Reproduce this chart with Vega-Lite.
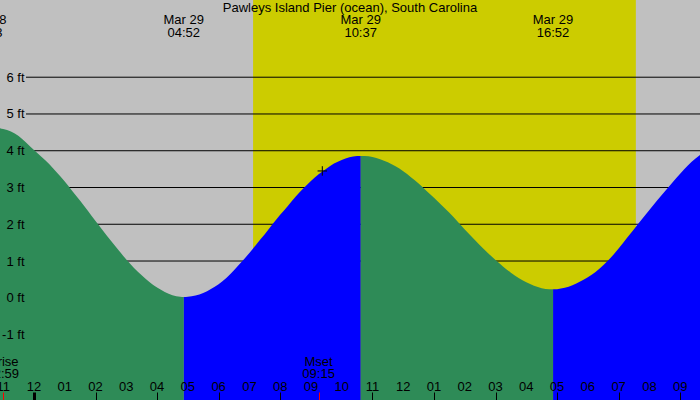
{
  "$schema": "https://vega.github.io/schema/vega-lite/v6.json",
  "width": 700,
  "height": 400,
  "autosize": {"type": "none"},
  "padding": 0,
  "background": "#c0c0c0",
  "config": {
    "font": "Liberation Sans",
    "view": {"stroke": null, "fill": "#c0c0c0"},
    "axis": {"labelFont": "Liberation Sans", "labelColor": "#000000", "labelFontSize": 13, "title": null, "grid": false, "domain": false}
  },
  "datasets": {
    "tide": [
      {"t": -1.45, "h": 4.65, "seg": "A", "dir": "falling"},
      {"t": -1.25, "h": 4.64, "seg": "A", "dir": "falling"},
      {"t": -1.0, "h": 4.59, "seg": "A", "dir": "falling"},
      {"t": -0.75, "h": 4.52, "seg": "A", "dir": "falling"},
      {"t": -0.5, "h": 4.4, "seg": "A", "dir": "falling"},
      {"t": -0.25, "h": 4.22, "seg": "A", "dir": "falling"},
      {"t": 0.0, "h": 4.02, "seg": "A", "dir": "falling"},
      {"t": 0.25, "h": 3.83, "seg": "A", "dir": "falling"},
      {"t": 0.5, "h": 3.63, "seg": "A", "dir": "falling"},
      {"t": 0.75, "h": 3.4, "seg": "A", "dir": "falling"},
      {"t": 1.0, "h": 3.16, "seg": "A", "dir": "falling"},
      {"t": 1.25, "h": 2.9, "seg": "A", "dir": "falling"},
      {"t": 1.5, "h": 2.64, "seg": "A", "dir": "falling"},
      {"t": 1.75, "h": 2.37, "seg": "A", "dir": "falling"},
      {"t": 2.0, "h": 2.09, "seg": "A", "dir": "falling"},
      {"t": 2.25, "h": 1.82, "seg": "A", "dir": "falling"},
      {"t": 2.5, "h": 1.55, "seg": "A", "dir": "falling"},
      {"t": 2.75, "h": 1.29, "seg": "A", "dir": "falling"},
      {"t": 3.0, "h": 1.04, "seg": "A", "dir": "falling"},
      {"t": 3.25, "h": 0.81, "seg": "A", "dir": "falling"},
      {"t": 3.5, "h": 0.61, "seg": "A", "dir": "falling"},
      {"t": 3.75, "h": 0.43, "seg": "A", "dir": "falling"},
      {"t": 4.0, "h": 0.28, "seg": "A", "dir": "falling"},
      {"t": 4.25, "h": 0.16, "seg": "A", "dir": "falling"},
      {"t": 4.5, "h": 0.07, "seg": "A", "dir": "falling"},
      {"t": 4.75, "h": 0.03, "seg": "A", "dir": "falling"},
      {"t": 4.87, "h": 0.02, "seg": "A", "dir": "falling"},
      {"t": 4.87, "h": 0.02, "seg": "B", "dir": "rising"},
      {"t": 5.0, "h": 0.03, "seg": "B", "dir": "rising"},
      {"t": 5.25, "h": 0.06, "seg": "B", "dir": "rising"},
      {"t": 5.5, "h": 0.13, "seg": "B", "dir": "rising"},
      {"t": 5.75, "h": 0.24, "seg": "B", "dir": "rising"},
      {"t": 6.0, "h": 0.37, "seg": "B", "dir": "rising"},
      {"t": 6.25, "h": 0.54, "seg": "B", "dir": "rising"},
      {"t": 6.5, "h": 0.75, "seg": "B", "dir": "rising"},
      {"t": 6.75, "h": 0.98, "seg": "B", "dir": "rising"},
      {"t": 7.0, "h": 1.22, "seg": "B", "dir": "rising"},
      {"t": 7.25, "h": 1.48, "seg": "B", "dir": "rising"},
      {"t": 7.5, "h": 1.73, "seg": "B", "dir": "rising"},
      {"t": 7.75, "h": 2.0, "seg": "B", "dir": "rising"},
      {"t": 8.0, "h": 2.26, "seg": "B", "dir": "rising"},
      {"t": 8.25, "h": 2.5, "seg": "B", "dir": "rising"},
      {"t": 8.5, "h": 2.75, "seg": "B", "dir": "rising"},
      {"t": 8.75, "h": 2.97, "seg": "B", "dir": "rising"},
      {"t": 9.0, "h": 3.18, "seg": "B", "dir": "rising"},
      {"t": 9.25, "h": 3.36, "seg": "B", "dir": "rising"},
      {"t": 9.5, "h": 3.51, "seg": "B", "dir": "rising"},
      {"t": 9.75, "h": 3.65, "seg": "B", "dir": "rising"},
      {"t": 10.0, "h": 3.75, "seg": "B", "dir": "rising"},
      {"t": 10.25, "h": 3.82, "seg": "B", "dir": "rising"},
      {"t": 10.5, "h": 3.855, "seg": "B", "dir": "rising"},
      {"t": 10.62, "h": 3.86, "seg": "B", "dir": "rising"},
      {"t": 10.62, "h": 3.86, "seg": "C", "dir": "falling"},
      {"t": 10.75, "h": 3.856, "seg": "C", "dir": "falling"},
      {"t": 11.0, "h": 3.83, "seg": "C", "dir": "falling"},
      {"t": 11.25, "h": 3.77, "seg": "C", "dir": "falling"},
      {"t": 11.5, "h": 3.685, "seg": "C", "dir": "falling"},
      {"t": 11.75, "h": 3.575, "seg": "C", "dir": "falling"},
      {"t": 12.0, "h": 3.44, "seg": "C", "dir": "falling"},
      {"t": 12.25, "h": 3.28, "seg": "C", "dir": "falling"},
      {"t": 12.5, "h": 3.11, "seg": "C", "dir": "falling"},
      {"t": 12.75, "h": 2.915, "seg": "C", "dir": "falling"},
      {"t": 13.0, "h": 2.72, "seg": "C", "dir": "falling"},
      {"t": 13.25, "h": 2.52, "seg": "C", "dir": "falling"},
      {"t": 13.5, "h": 2.31, "seg": "C", "dir": "falling"},
      {"t": 13.75, "h": 2.09, "seg": "C", "dir": "falling"},
      {"t": 14.0, "h": 1.86, "seg": "C", "dir": "falling"},
      {"t": 14.25, "h": 1.64, "seg": "C", "dir": "falling"},
      {"t": 14.5, "h": 1.42, "seg": "C", "dir": "falling"},
      {"t": 14.75, "h": 1.22, "seg": "C", "dir": "falling"},
      {"t": 15.0, "h": 1.025, "seg": "C", "dir": "falling"},
      {"t": 15.25, "h": 0.846, "seg": "C", "dir": "falling"},
      {"t": 15.5, "h": 0.683, "seg": "C", "dir": "falling"},
      {"t": 15.75, "h": 0.54, "seg": "C", "dir": "falling"},
      {"t": 16.0, "h": 0.42, "seg": "C", "dir": "falling"},
      {"t": 16.25, "h": 0.328, "seg": "C", "dir": "falling"},
      {"t": 16.5, "h": 0.262, "seg": "C", "dir": "falling"},
      {"t": 16.75, "h": 0.233, "seg": "C", "dir": "falling"},
      {"t": 16.87, "h": 0.23, "seg": "C", "dir": "falling"},
      {"t": 16.87, "h": 0.23, "seg": "D", "dir": "rising"},
      {"t": 17.0, "h": 0.235, "seg": "D", "dir": "rising"},
      {"t": 17.25, "h": 0.27, "seg": "D", "dir": "rising"},
      {"t": 17.5, "h": 0.34, "seg": "D", "dir": "rising"},
      {"t": 17.75, "h": 0.44, "seg": "D", "dir": "rising"},
      {"t": 18.0, "h": 0.56, "seg": "D", "dir": "rising"},
      {"t": 18.25, "h": 0.705, "seg": "D", "dir": "rising"},
      {"t": 18.5, "h": 0.883, "seg": "D", "dir": "rising"},
      {"t": 18.75, "h": 1.093, "seg": "D", "dir": "rising"},
      {"t": 19.0, "h": 1.342, "seg": "D", "dir": "rising"},
      {"t": 19.25, "h": 1.608, "seg": "D", "dir": "rising"},
      {"t": 19.5, "h": 1.864, "seg": "D", "dir": "rising"},
      {"t": 19.75, "h": 2.127, "seg": "D", "dir": "rising"},
      {"t": 20.0, "h": 2.39, "seg": "D", "dir": "rising"},
      {"t": 20.25, "h": 2.646, "seg": "D", "dir": "rising"},
      {"t": 20.5, "h": 2.892, "seg": "D", "dir": "rising"},
      {"t": 20.75, "h": 3.138, "seg": "D", "dir": "rising"},
      {"t": 21.0, "h": 3.377, "seg": "D", "dir": "rising"},
      {"t": 21.25, "h": 3.597, "seg": "D", "dir": "rising"},
      {"t": 21.5, "h": 3.786, "seg": "D", "dir": "rising"},
      {"t": 21.75, "h": 3.949, "seg": "D", "dir": "rising"},
      {"t": 22.0, "h": 4.088, "seg": "D", "dir": "rising"}
    ],
    "sun": [{"t": 7.12, "t2": 19.56}],
    "levels": [{"h": 1}, {"h": 2}, {"h": 3}, {"h": 4}, {"h": 5}, {"h": 6}],
    "hours": [
      {"t": -1, "label": "11"}, {"t": 0, "label": "12"}, {"t": 1, "label": "01"}, {"t": 2, "label": "02"},
      {"t": 3, "label": "03"}, {"t": 4, "label": "04"}, {"t": 5, "label": "05"}, {"t": 6, "label": "06"},
      {"t": 7, "label": "07"}, {"t": 8, "label": "08"}, {"t": 9, "label": "09"}, {"t": 10, "label": "10"},
      {"t": 11, "label": "11"}, {"t": 12, "label": "12"}, {"t": 13, "label": "01"}, {"t": 14, "label": "02"},
      {"t": 15, "label": "03"}, {"t": 16, "label": "04"}, {"t": 17, "label": "05"}, {"t": 18, "label": "06"},
      {"t": 19, "label": "07"}, {"t": 20, "label": "08"}, {"t": 21, "label": "09"}
    ],
    "extremes": [
      {"t": -1.55, "date": "Mar 28", "time": "22:33"},
      {"t": 4.867, "date": "Mar 29", "time": "04:52"},
      {"t": 10.617, "date": "Mar 29", "time": "10:37"},
      {"t": 16.867, "date": "Mar 29", "time": "16:52"}
    ],
    "moon": [
      {"t": -1.017, "name": "Mrise", "time": "22:59"},
      {"t": 9.25, "name": "Mset", "time": "09:15"}
    ],
    "marker": [{"t": 9.37, "h": 3.45}],
    "title": [{"t": 10.27, "text": "Pawleys Island Pier (ocean), South Carolina"}]
  },
  "layer": [
    {
      "data": {"name": "sun"},
      "mark": {"type": "rect", "color": "#cccc00"},
      "encoding": {
        "x": {"field": "t", "type": "quantitative", "scale": {"domain": [-1.105, 21.645], "nice": false, "zero": false}},
        "x2": {"field": "t2"}
      }
    },
    {
      "data": {"name": "levels"},
      "mark": {"type": "rule", "color": "#000000", "strokeWidth": 1},
      "encoding": {
        "x": {"datum": -0.26, "type": "quantitative"},
        "x2": {"datum": 21.645},
        "y": {"field": "h", "type": "quantitative", "scale": {"domain": [-2.78, 8.1], "nice": false, "zero": false}}
      }
    },
    {
      "data": {"name": "tide"},
      "mark": {"type": "area", "interpolate": "monotone", "clip": true},
      "encoding": {
        "x": {
          "field": "t", "type": "quantitative",
          "scale": {"domain": [-1.105, 21.645], "nice": false, "zero": false},
          "axis": {
            "orient": "top", "offset": -400, "zindex": 1,
            "values": [-1, 0, 1, 2, 3, 4, 5, 6, 7, 8, 9, 10, 11, 12, 13, 14, 15, 16, 17, 18, 19, 20, 21, -1.017, 9.25],
            "tickSize": 8,
            "tickColor": {"condition": {"test": "datum.value != round(datum.value)", "value": "#ff0000"}, "value": "#000000"},
            "tickWidth": {"condition": {"test": "datum.value == 0", "value": 3}, "value": 1},
            "labels": false,
            "minExtent": 0
          }
        },
        "y": {
          "field": "h", "type": "quantitative", "stack": null,
          "scale": {"domain": [-2.78, 8.1], "nice": false, "zero": false},
          "axis": {
            "orient": "left", "offset": -26, "zindex": 1,
            "values": [-1, 0, 1, 2, 3, 4, 5, 6],
            "ticks": false, "tickSize": 0, "labelPadding": 2,
            "labelExpr": "datum.value + ' ft'",
            "minExtent": 0
          }
        },
        "y2": {"datum": -2.78},
        "color": {"field": "dir", "type": "nominal", "scale": {"domain": ["falling", "rising"], "range": ["#2e8b57", "#0000ff"]}, "legend": null},
        "detail": {"field": "seg"}
      }
    },
    {
      "data": {"name": "marker"},
      "mark": {"type": "point", "shape": "M-1,0L1,0M0,-1L0,1", "size": 90, "stroke": "#000000", "strokeWidth": 1, "filled": false, "opacity": 1},
      "encoding": {
        "x": {"field": "t", "type": "quantitative"},
        "y": {"field": "h", "type": "quantitative"}
      }
    },
    {
      "data": {"name": "hours"},
      "mark": {"type": "text", "align": "center", "baseline": "middle", "fontSize": 13, "color": "#000000", "clip": true},
      "encoding": {
        "x": {"field": "t", "type": "quantitative"},
        "y": {"datum": -2.418, "type": "quantitative"},
        "text": {"field": "label"}
      }
    },
    {
      "data": {"name": "extremes"},
      "mark": {"type": "text", "align": "center", "baseline": "middle", "fontSize": 13, "color": "#000000", "clip": true},
      "encoding": {
        "x": {"field": "t", "type": "quantitative"},
        "y": {"datum": 7.551, "type": "quantitative"},
        "text": {"field": "date"}
      }
    },
    {
      "data": {"name": "extremes"},
      "mark": {"type": "text", "align": "center", "baseline": "middle", "fontSize": 13, "color": "#000000", "clip": true},
      "encoding": {
        "x": {"field": "t", "type": "quantitative"},
        "y": {"datum": 7.211, "type": "quantitative"},
        "text": {"field": "time"}
      }
    },
    {
      "data": {"name": "moon"},
      "mark": {"type": "text", "align": "center", "baseline": "middle", "fontSize": 13, "color": "#000000", "clip": true},
      "encoding": {
        "x": {"field": "t", "type": "quantitative"},
        "y": {"datum": -1.752, "type": "quantitative"},
        "text": {"field": "name"}
      }
    },
    {
      "data": {"name": "moon"},
      "mark": {"type": "text", "align": "center", "baseline": "middle", "fontSize": 13, "color": "#000000", "clip": true},
      "encoding": {
        "x": {"field": "t", "type": "quantitative"},
        "y": {"datum": -2.078, "type": "quantitative"},
        "text": {"field": "time"}
      }
    },
    {
      "data": {"name": "title"},
      "mark": {"type": "text", "align": "center", "baseline": "middle", "fontSize": 13, "color": "#000000"},
      "encoding": {
        "x": {"field": "t", "type": "quantitative"},
        "y": {"datum": 7.885, "type": "quantitative"},
        "text": {"field": "text"}
      }
    }
  ]
}
